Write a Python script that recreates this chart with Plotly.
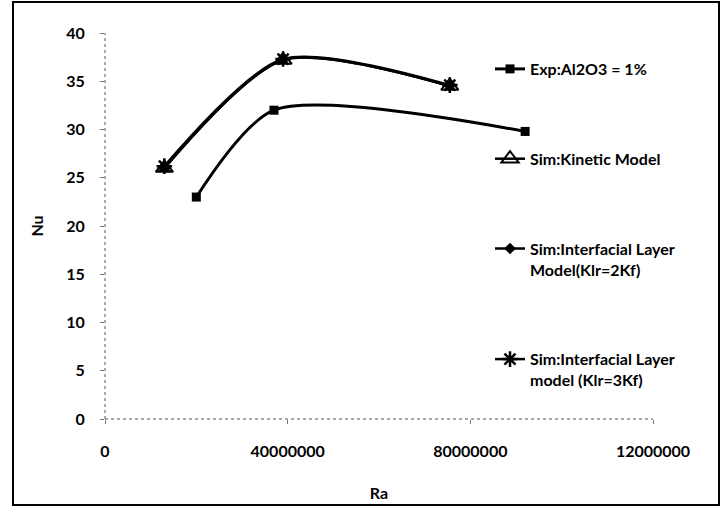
import plotly.graph_objects as go

ra_exp = [20000000, 37000000, 92000000]
nu_exp = [23.0, 32.0, 29.8]
ra_sim = [13000000, 39000000, 75500000]
nu_kinetic = [26.0, 37.2, 34.5]
nu_il2 = [26.0, 37.2, 34.5]
nu_il3 = [26.2, 37.3, 34.6]

x_tickvals = [0, 40000000, 80000000, 120000000]
x_ticktext = ["0", "40000000", "80000000", "12000000"]
y_tickvals = [0, 5, 10, 15, 20, 25, 30, 35, 40]

FONT = "Lato"
SMOOTH = 0.75
fig = go.Figure()
fig.add_trace(go.Scatter(x=ra_exp, y=nu_exp, name="Exp:Al2O3 = 1%", mode="lines+markers",
                         line=dict(color="black", width=3, shape="spline", smoothing=SMOOTH),
                         marker=dict(symbol="square", size=9, color="black"), legendgroup="a"))
fig.add_trace(go.Scatter(x=ra_sim, y=nu_kinetic, name="Sim:Kinetic Model", mode="lines+markers",
                         line=dict(color="black", width=2.5, shape="spline", smoothing=SMOOTH),
                         marker=dict(symbol="triangle-up-open", size=15, color="black", line=dict(width=2)), legendgroup="b"))
fig.add_trace(go.Scatter(x=ra_sim, y=nu_il2, name="Sim:Interfacial Layer<br>Model(Klr=2Kf)", mode="lines+markers",
                         line=dict(color="black", width=2.5, shape="spline", smoothing=SMOOTH),
                         marker=dict(symbol="diamond", size=9, color="black"), legendgroup="c"))
fig.add_trace(go.Scatter(x=ra_sim, y=nu_il3, name="Sim:Interfacial Layer<br>model (Klr=3Kf)", mode="lines+markers",
                         line=dict(color="black", width=2.5, shape="spline", smoothing=SMOOTH),
                         marker=dict(symbol="asterisk-open", size=13, color="black", line=dict(width=2.5, color="black")), legendgroup="d"))

def px(x):
    return (x - 105) / 548

def py(y):
    return (419 - y) / 386

shapes = [
    dict(type="rect", xref="paper", yref="paper", x0=px(13), x1=px(719), y0=py(505), y1=py(2),
         line=dict(color="black", width=2)),
    dict(type="line", xref="paper", yref="paper", x0=0, x1=0, y0=0, y1=1, line=dict(color="#555", width=1, dash="dot")),
    dict(type="line", xref="paper", yref="paper", x0=0, x1=1, y0=0, y1=0, line=dict(color="#555", width=1, dash="dot")),
]

fig.update_layout(
    width=723, height=507,
    margin=dict(l=105, r=70, t=33, b=88),
    paper_bgcolor="white", plot_bgcolor="white",
    font=dict(family=FONT, size=16, color="black", weight="bold"),
    shapes=shapes,
    showlegend=True,
    legend=dict(x=px(490), y=py(52), xanchor="left", yanchor="top", tracegroupgap=66,
                valign="top", bgcolor="rgba(0,0,0,0)", font=dict(family=FONT, size=16, weight="bold")),
    xaxis=dict(range=[0, 120000000], tickvals=x_tickvals, ticktext=x_ticktext, showgrid=False,
               zeroline=False, showline=False, ticks="outside", ticklen=4, tickcolor="#777",
               ticklabelstandoff=14, automargin=False,
               title=dict(text="Ra", standoff=28, font=dict(family=FONT, size=16, weight="bold"))),
    yaxis=dict(range=[0, 40], tickvals=y_tickvals, showgrid=False, zeroline=False, showline=False,
               ticks="outside", ticklen=4, tickcolor="#777", ticklabelstandoff=12, automargin=False,
               title=dict(text="Nu", standoff=18, font=dict(family=FONT, size=16, weight="bold"))),
)

fig.write_html("out.html")
